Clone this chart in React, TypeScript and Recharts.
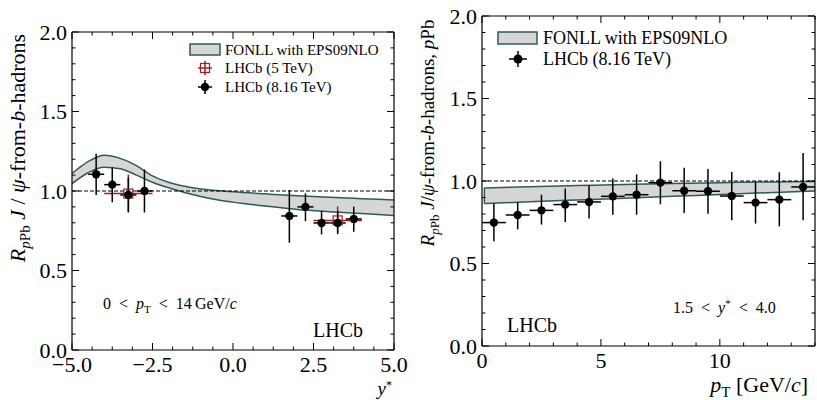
import React from "react";
import { ComposedChart, Area, Scatter, ErrorBar, XAxis, YAxis, ReferenceLine } from "recharts";

const FONT = '"Liberation Serif", "Times New Roman", serif';
const INK = "#000";
const BAND_FILL = "#d6d6d6";
const BAND_EDGE = "#2e5a5a";
const RED = "#a31f1f";

// left panel: y* dependence, FONLL band
const bandYStar = [-5, -4.5, -4, -3.5, -3, -2.5, -2, -1.5, -1, -0.5, 0, 1, 2, 3, 4, 5];
const bandYStarHi = [1.11, 1.185, 1.225, 1.205, 1.16, 1.095, 1.055, 1.03, 1.013, 1.003, 0.995, 0.982, 0.97, 0.96, 0.952, 0.944];
const bandYStarLo = [1.046, 1.115, 1.15, 1.14, 1.1, 1.055, 1.02, 0.99, 0.965, 0.945, 0.93, 0.905, 0.884, 0.87, 0.858, 0.846];

// LHCb 8.16 TeV vs y*
const yStarBins816 = [-4.25, -3.75, -3.25, -2.75, 1.75, 2.25, 2.75, 3.25, 3.75];
const rYStar816 = [1.105, 1.04, 0.975, 1.0, 0.843, 0.9, 0.799, 0.799, 0.824];
const rYStar816Lo = [0.13, 0.11, 0.11, 0.135, 0.168, 0.09, 0.072, 0.07, 0.08];
const rYStar816Hi = [0.13, 0.11, 0.11, 0.135, 0.163, 0.085, 0.075, 0.075, 0.077];

// LHCb 5 TeV vs y*
const yStarBins5 = [-3.25, 3.25];
const yStarHalfWidth5 = [0.75, 0.75];
const rYStar5 = [0.984, 0.815];
const rYStar5Lo = [0.114, 0.08];
const rYStar5Hi = [0.12, 0.088];

// right panel: pT dependence
const bandPt = [0.1, 2, 4, 6, 8, 10, 12, 14];
const bandPtHi = [0.958, 0.965, 0.972, 0.979, 0.985, 0.99, 0.994, 0.997];
const bandPtLo = [0.863, 0.874, 0.885, 0.896, 0.907, 0.918, 0.929, 0.94];

const ptBins = [0.5, 1.5, 2.5, 3.5, 4.5, 5.5, 6.5, 7.5, 8.5, 9.5, 10.5, 11.5, 12.5, 13.5];
const rPt = [0.748, 0.794, 0.822, 0.857, 0.873, 0.907, 0.917, 0.99, 0.941, 0.938, 0.909, 0.869, 0.887, 0.964];
const rPtLo = [0.113, 0.087, 0.086, 0.105, 0.101, 0.111, 0.121, 0.131, 0.135, 0.136, 0.147, 0.127, 0.162, 0.202];
const rPtHi = [0.115, 0.079, 0.095, 0.097, 0.101, 0.108, 0.123, 0.13, 0.139, 0.135, 0.146, 0.129, 0.166, 0.206];

// ticks
const rTicks = [0, 0.1, 0.2, 0.3, 0.4, 0.5, 0.6, 0.7, 0.8, 0.9, 1, 1.1, 1.2, 1.3, 1.4, 1.5, 1.6, 1.7, 1.8, 1.9, 2];
const rMajor = [0, 0.5, 1, 1.5, 2];
const yStarTicks = [-5, -4.375, -3.75, -3.125, -2.5, -1.875, -1.25, -0.625, 0, 0.625, 1.25, 1.875, 2.5, 3.125, 3.75, 4.375, 5];
const yStarMajor = [-5, -2.5, 0, 2.5, 5];
const ptTicks = [0, 1, 2, 3, 4, 5, 6, 7, 8, 9, 10, 11, 12, 13, 14];
const ptMajor = [0, 5, 10];

const leftBand = bandYStar.map((x, i) => ({ x, band: [bandYStarLo[i], bandYStarHi[i]] }));
const leftPts816 = yStarBins816.map((x, i) => ({ x, y: rYStar816[i], ex: 0.25, ey: [rYStar816Lo[i], rYStar816Hi[i]] }));
const leftPts5 = yStarBins5.map((x, i) => ({ x, y: rYStar5[i], ex: yStarHalfWidth5[i], ey: [rYStar5Lo[i], rYStar5Hi[i]] }));
const rightBand = bandPt.map((x, i) => ({ x, band: [bandPtLo[i], bandPtHi[i]] }));
const rightPts = ptBins.map((x, i) => ({ x, y: rPt[i], ex: 0.5, ey: [rPtLo[i], rPtHi[i]] }));

const isMajor = (list: number[], v: number) => list.some((m) => Math.abs(m - v) < 1e-6);
const fmtSigned = (v: number) => (v < 0 ? "\u2212" + Math.abs(v).toFixed(1) : v.toFixed(1));

// inward ticks on bottom + mirrored on top
const xTick = (majors: number[], fmt: (v: number) => string, plotH: number) => (props: any) => {
  const { x, y, payload } = props;
  const major = isMajor(majors, payload.value);
  const len = major ? 7 : 3.5;
  return (
    <g>
      <line x1={x} y1={y} x2={x} y2={y - len} stroke={INK} strokeWidth={1} />
      <line x1={x} y1={y - plotH} x2={x} y2={y - plotH + len} stroke={INK} strokeWidth={1} />
      {major && (
        <text x={x} y={y + 22} textAnchor="middle" fontFamily={FONT} fontSize={22} fill={INK}>
          {fmt(payload.value)}
        </text>
      )}
    </g>
  );
};

const yTick = (plotW: number) => (props: any) => {
  const { x, y, payload } = props;
  const major = isMajor(rMajor, payload.value);
  const len = major ? 7 : 3.5;
  return (
    <g>
      <line x1={x} y1={y} x2={x + len} y2={y} stroke={INK} strokeWidth={1} />
      <line x1={x + plotW} y1={y} x2={x + plotW - len} y2={y} stroke={INK} strokeWidth={1} />
      {major && (
        <text x={x - 5} y={y + 7.5} textAnchor="end" fontFamily={FONT} fontSize={22} fill={INK}>
          {payload.value.toFixed(1)}
        </text>
      )}
    </g>
  );
};

const dot = (p: any) => <circle cx={p.cx} cy={p.cy} r={4.2} fill={INK} />;
const openSquare = (p: any) => (
  <rect x={p.cx - 4.5} y={p.cy - 4.5} width={9} height={9} fill="none" stroke={RED} strokeWidth={1.2} />
);

function LeftPanel() {
  return (
    <ComposedChart width={410} height={400} data={leftBand} margin={{ top: 32, right: 16, bottom: 0, left: 0 }}>
      <XAxis
        dataKey="x"
        type="number"
        domain={[-5, 5]}
        ticks={yStarTicks}
        interval={0}
        height={50}
        tickSize={0}
        tickMargin={0}
        tick={xTick(yStarMajor, fmtSigned, 318)}
        axisLine={{ stroke: INK, strokeWidth: 1.2 }}
        tickLine={false}
      />
      <YAxis
        type="number"
        domain={[0, 2]}
        ticks={rTicks}
        interval={0}
        width={72}
        tickSize={0}
        tickMargin={0}
        tick={yTick(322)}
        axisLine={{ stroke: INK, strokeWidth: 1.2 }}
        tickLine={false}
      />
      <ReferenceLine y={2} stroke={INK} strokeWidth={1.2} />
      <ReferenceLine x={5} stroke={INK} strokeWidth={1.2} />
      <Area
        dataKey="band"
        type="monotone"
        fill={BAND_FILL}
        fillOpacity={1}
        stroke={BAND_EDGE}
        strokeWidth={1.5}
        isAnimationActive={false}
      />
      <ReferenceLine y={1} stroke={INK} strokeWidth={1} strokeDasharray="4 2" />
      <Scatter data={leftPts5} dataKey="y" shape={openSquare} isAnimationActive={false}>
        <ErrorBar dataKey="ey" direction="y" width={0} stroke={RED} strokeWidth={1.5} />
        <ErrorBar dataKey="ex" direction="x" width={0} stroke={RED} strokeWidth={1.5} />
      </Scatter>
      <Scatter data={leftPts816} dataKey="y" shape={dot} isAnimationActive={false}>
        <ErrorBar dataKey="ey" direction="y" width={0} stroke={INK} strokeWidth={1.5} />
        <ErrorBar dataKey="ex" direction="x" width={0} stroke={INK} strokeWidth={1.5} />
      </Scatter>
    </ComposedChart>
  );
}

function RightPanel() {
  return (
    <ComposedChart width={407} height={400} data={rightBand} margin={{ top: 16, right: 2, bottom: 0, left: 0 }}>
      <XAxis
        dataKey="x"
        type="number"
        domain={[0, 14]}
        ticks={ptTicks}
        interval={0}
        height={54}
        tickSize={0}
        tickMargin={0}
        tick={xTick(ptMajor, (v) => String(v), 330)}
        axisLine={{ stroke: INK, strokeWidth: 1.2 }}
        tickLine={false}
      />
      <YAxis
        type="number"
        domain={[0, 2]}
        ticks={rTicks}
        interval={0}
        width={72}
        tickSize={0}
        tickMargin={0}
        tick={yTick(333)}
        axisLine={{ stroke: INK, strokeWidth: 1.2 }}
        tickLine={false}
      />
      <ReferenceLine y={2} stroke={INK} strokeWidth={1.2} />
      <ReferenceLine x={14} stroke={INK} strokeWidth={1.2} />
      <Area
        dataKey="band"
        type="monotone"
        fill={BAND_FILL}
        fillOpacity={1}
        stroke={BAND_EDGE}
        strokeWidth={1.5}
        isAnimationActive={false}
      />
      <ReferenceLine
        segment={[{ x: bandPt[0], y: bandPtLo[0] }, { x: bandPt[0], y: bandPtHi[0] }]}
        stroke={BAND_EDGE}
        strokeWidth={1.5}
      />
      <ReferenceLine y={1} stroke={INK} strokeWidth={1} strokeDasharray="4 2" />
      <Scatter data={rightPts} dataKey="y" shape={dot} isAnimationActive={false}>
        <ErrorBar dataKey="ey" direction="y" width={0} stroke={INK} strokeWidth={1.5} />
        <ErrorBar dataKey="ex" direction="x" width={0} stroke={INK} strokeWidth={1.5} />
      </Scatter>
    </ComposedChart>
  );
}

// text, legends and axis titles drawn on top
function Overlay() {
  const it = { fontStyle: "italic" as const };
  return (
    <svg width={817} height={400} style={{ position: "absolute", left: 0, top: 0, pointerEvents: "none" }} fontFamily={FONT} fill={INK}>
      {/* left y title */}
      <text x={25} y={148} textAnchor="middle" fontSize={22} transform="rotate(-90 25 148)">
        <tspan {...it}>R</tspan>
        <tspan dy={5} fontSize={15}><tspan {...it}>p</tspan>Pb</tspan>
        <tspan dy={-5}>{"  "}</tspan>
        <tspan {...it}>J</tspan>
        <tspan>{" / "}</tspan>
        <tspan {...it}>ψ</tspan>
        <tspan>-from-</tspan>
        <tspan {...it}>b</tspan>
        <tspan>-hadrons</tspan>
      </text>
      {/* right y title */}
      <text x={434} y={133} textAnchor="middle" fontSize={19} transform="rotate(-90 434 133)">
        <tspan {...it}>R</tspan>
        <tspan dy={4.5} fontSize={13}><tspan {...it}>p</tspan>Pb</tspan>
        <tspan dy={-4.5}>{" "}</tspan>
        <tspan {...it}>J</tspan>
        <tspan>/</tspan>
        <tspan {...it}>ψ</tspan>
        <tspan>-from-</tspan>
        <tspan {...it}>b</tspan>
        <tspan>-hadrons, </tspan>
        <tspan {...it}>p</tspan>
        <tspan>Pb</tspan>
      </text>

      {/* x titles */}
      <text x={392} y={395} textAnchor="end" fontSize={19}>
        <tspan {...it}>y</tspan>
        <tspan dy={-6} fontSize={12}>*</tspan>
      </text>
      <text x={808} y={392} textAnchor="end" fontSize={22}>
        <tspan {...it}>p</tspan>
        <tspan dy={5} fontSize={15}>T</tspan>
        <tspan dy={-5}>{" [GeV/"}</tspan>
        <tspan {...it}>c</tspan>
        <tspan>]</tspan>
      </text>

      {/* left annotations */}
      <text x={103} y={309} fontSize={16}>
        <tspan>{"0\u2002<\u2002"}</tspan>
        <tspan {...it}>p</tspan>
        <tspan dy={3.5} fontSize={11}>T</tspan>
        <tspan dy={-3.5}>{"\u2002<\u200214\u2009GeV/"}</tspan>
        <tspan {...it}>c</tspan>
      </text>
      <text x={313} y={337} fontSize={20}>LHCb</text>

      {/* right annotations */}
      <text x={673} y={313} fontSize={16}>
        <tspan>{"1.5\u2002<\u2002"}</tspan>
        <tspan {...it}>y</tspan>
        <tspan dy={-6} fontSize={11}>*</tspan>
        <tspan dy={6}>{"\u2002<\u20024.0"}</tspan>
      </text>
      <text x={507} y={332} fontSize={20}>LHCb</text>

      {/* left legend */}
      <rect x={190} y={44} width={30} height={11} fill={BAND_FILL} stroke={BAND_EDGE} strokeWidth={1.5} />
      <text x={225} y={55} fontSize={15}>FONLL with EPS09NLO</text>
      <line x1={198} y1={68} x2={212} y2={68} stroke={RED} strokeWidth={1.5} />
      <line x1={205} y1={61} x2={205} y2={75} stroke={RED} strokeWidth={1.5} />
      <rect x={200.5} y={63.5} width={9} height={9} fill="none" stroke={RED} strokeWidth={1.2} />
      <text x={225} y={73} fontSize={15}>LHCb (5 TeV)</text>
      <line x1={198} y1={87} x2={212} y2={87} stroke={INK} strokeWidth={1.5} />
      <line x1={205} y1={80} x2={205} y2={94} stroke={INK} strokeWidth={1.5} />
      <circle cx={205} cy={87} r={4.2} fill={INK} />
      <text x={225} y={92} fontSize={15}>LHCb (8.16 TeV)</text>

      {/* right legend */}
      <rect x={498} y={32} width={39} height={12} fill={BAND_FILL} stroke={BAND_EDGE} strokeWidth={1.5} />
      <text x={543} y={44} fontSize={18}>FONLL with EPS09NLO</text>
      <line x1={509} y1={59} x2={527} y2={59} stroke={INK} strokeWidth={1.5} />
      <line x1={518} y1={51} x2={518} y2={67} stroke={INK} strokeWidth={1.5} />
      <circle cx={518} cy={59} r={4.5} fill={INK} />
      <text x={543} y={65} fontSize={18}>LHCb (8.16 TeV)</text>
    </svg>
  );
}

export default function App() {
  return (
    <div style={{ position: "absolute", left: 0, top: 0, width: 817, height: 400, background: "#fff" }}>
      <div style={{ position: "absolute", left: 0, top: 0 }}>
        <LeftPanel />
      </div>
      <div style={{ position: "absolute", left: 410, top: 0 }}>
        <RightPanel />
      </div>
      <Overlay />
    </div>
  );
}
